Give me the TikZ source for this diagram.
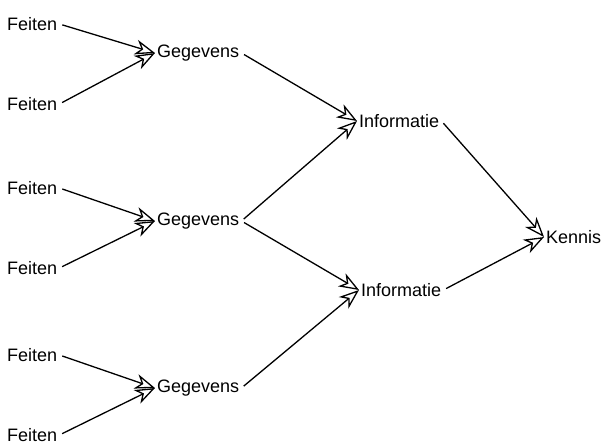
\documentclass[tikz,border=0pt]{standalone}
\usepackage{fontspec}
\setmainfont{Liberation Sans}
\usetikzlibrary{arrows.meta}
\tikzset{
  link/.style={line width=1.3pt,shorten <=3pt,-{Stealth[open,length=20pt,width=15pt,inset=6pt]}}
}
\begin{document}
\begin{tikzpicture}[x=1pt,y=-1pt,every node/.style={anchor=west,inner sep=2pt,font=\fontsize{18}{21}\selectfont}]
      \useasboundingbox (0,0) rectangle (605,444);
      \draw
        (5,24) node (f1){Feiten}
        (5,104) node (f2){Feiten}
        (5,188) node (f3){Feiten}
        (5,268) node (f4){Feiten}
        (5,355) node (f5){Feiten}
        (5,435) node (f6){Feiten}
        (155,53) node (g1){Gegevens}
        (155,221) node (g2){Gegevens}
        (155,388) node (g3){Gegevens}
        (357,121) node (i1){Informatie}
        (359,290) node (i2){Informatie}
        (544,237) node (k){Kennis};
      \begin{scope}[link]
        \draw (f1.east) to (g1.west);
        \draw (f2.east) to (g1.west);
        \draw (f3.east) to (g2.west);
        \draw (f4.east) to (g2.west);
        \draw (f5.east) to (g3.west);
        \draw (f6.east) to (g3.west);
        \draw (g1.east) to (i1.west);
        \draw (g2.east) to (i1.west);
        \draw (g2.east) to (i2.west);
        \draw (g3.east) to (i2.west);
        \draw (i1.east) to (k.west);
        \draw (i2.east) to (k.west);
      \end{scope}
    \end{tikzpicture}
\end{document}
